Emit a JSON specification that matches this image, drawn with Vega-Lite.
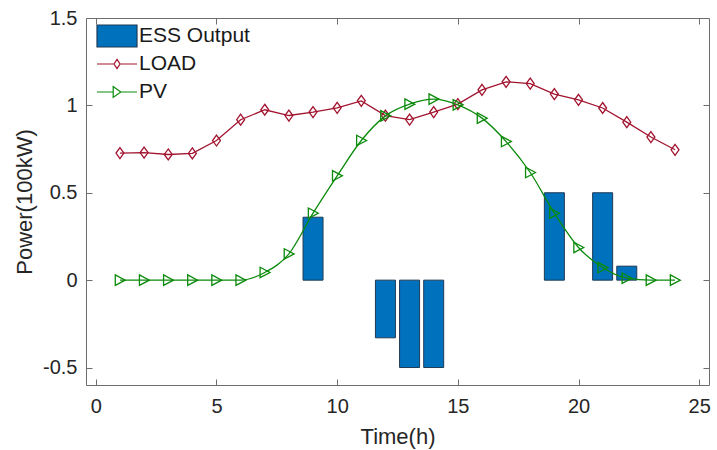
{
  "$schema": "https://vega.github.io/schema/vega-lite/v6.json",
  "width": 623,
  "height": 367,
  "autosize": "none",
  "padding": {"left": 86, "top": 18, "right": 8, "bottom": 65},
  "config": {
    "font": "Liberation Sans",
    "view": {"stroke": "#6e6e6e", "strokeWidth": 1},
    "axis": {
      "grid": false,
      "domain": false,
      "tickColor": "#6e6e6e",
      "tickSize": -6,
      "tickWidth": 1,
      "labelColor": "#262626",
      "titleColor": "#262626",
      "labelFontSize": 20,
      "titleFontSize": 22,
      "titleFontWeight": "normal",
      "labelFont": "Liberation Sans",
      "titleFont": "Liberation Sans"
    },
    "legend": {
      "title": null,
      "orient": "none",
      "clipHeight": 26,
      "labelFontSize": 21,
      "labelColor": "#1a1a1a",
      "labelFont": "Liberation Sans",
      "labelOffset": 1,
      "symbolSize": 1600,
      "symbolStrokeWidth": 1.2,
      "symbolOpacity": 1
    }
  },
  "datasets": {
    "hourly": [
      {"hour": 1, "load": 0.727, "pv": 0},
      {"hour": 2, "load": 0.730, "pv": 0},
      {"hour": 3, "load": 0.719, "pv": 0},
      {"hour": 4, "load": 0.725, "pv": 0},
      {"hour": 5, "load": 0.799, "pv": 0},
      {"hour": 6, "load": 0.918, "pv": 0},
      {"hour": 7, "load": 0.975, "pv": 0.044},
      {"hour": 8, "load": 0.942, "pv": 0.150},
      {"hour": 9, "load": 0.962, "pv": 0.383},
      {"hour": 10, "load": 0.986, "pv": 0.597},
      {"hour": 11, "load": 1.026, "pv": 0.799},
      {"hour": 12, "load": 0.942, "pv": 0.940},
      {"hour": 13, "load": 0.919, "pv": 1.007},
      {"hour": 14, "load": 0.962, "pv": 1.036},
      {"hour": 15, "load": 1.007, "pv": 1.003},
      {"hour": 16, "load": 1.089, "pv": 0.927},
      {"hour": 17, "load": 1.135, "pv": 0.793},
      {"hour": 18, "load": 1.125, "pv": 0.616},
      {"hour": 19, "load": 1.065, "pv": 0.383},
      {"hour": 20, "load": 1.032, "pv": 0.187},
      {"hour": 21, "load": 0.985, "pv": 0.072},
      {"hour": 22, "load": 0.904, "pv": 0.011},
      {"hour": 23, "load": 0.819, "pv": 0},
      {"hour": 24, "load": 0.746, "pv": 0}
    ],
    "ess": [
      {"hour": 9, "series": "ESS Output", "power": 0.36},
      {"hour": 12, "series": "ESS Output", "power": -0.33},
      {"hour": 13, "series": "ESS Output", "power": -0.5},
      {"hour": 14, "series": "ESS Output", "power": -0.5},
      {"hour": 19, "series": "ESS Output", "power": 0.5},
      {"hour": 21, "series": "ESS Output", "power": 0.5},
      {"hour": 22, "series": "ESS Output", "power": 0.08}
    ]
  },
  "resolve": {
    "axis": {"x": "independent", "y": "independent"},
    "scale": {"color": "independent"},
    "legend": {"color": "independent"}
  },
  "layer": [
    {
      "data": {"name": "ess"},
      "mark": {"type": "bar", "size": 20, "stroke": "#1f3a55", "strokeWidth": 1},
      "encoding": {
        "x": {
          "field": "hour", "type": "quantitative",
          "scale": {"domain": [-0.2, 25.2], "nice": false, "zero": false},
          "axis": {"values": [0, 5, 10, 15, 20, 25], "format": "d", "title": "Time(h)", "labelPadding": 17, "titlePadding": 10}
        },
        "y": {
          "field": "power", "type": "quantitative",
          "scale": {"domain": [-0.6, 1.5], "nice": false, "zero": false},
          "axis": {"values": [-0.5, 0, 0.5, 1, 1.5], "labelExpr": "datum.value + ''", "title": "Power(100kW)", "labelPadding": 15, "titlePadding": 6}
        },
        "color": {
          "field": "series", "type": "nominal",
          "scale": {"range": ["#0072BD"]},
          "legend": {
            "legendX": 10,
            "legendY": 5,
            "symbolType": "M-1,-0.55H1V0.55H-1Z",
            "symbolStrokeColor": "#1f3a55"
          }
        }
      }
    },
    {
      "mark": {"type": "rule", "color": "#555555", "strokeWidth": 1},
      "encoding": {
        "y": {"datum": 0, "type": "quantitative", "axis": null}
      }
    },
    {
      "data": {"name": "hourly"},
      "mark": {"type": "line", "strokeWidth": 1.3},
      "encoding": {
        "x": {"field": "hour", "type": "quantitative",
          "axis": {"orient": "top", "values": [0, 5, 10, 15, 20, 25], "labels": false, "title": null}},
        "y": {"field": "load", "type": "quantitative",
          "axis": {"orient": "right", "values": [-0.5, 0, 0.5, 1, 1.5], "labels": false, "title": null}},
        "color": {
          "datum": "LOAD", "type": "nominal",
          "scale": {"range": ["#A2142F"]},
          "legend": {
            "legendX": 10,
            "legendY": 33,
            "symbolType": "M-1,0H-0.15M0.15,0H1M0,-0.23L0.15,0L0,0.23L-0.15,0Z",
            "symbolFillColor": "transparent"
          }
        }
      }
    },
    {
      "data": {"name": "hourly"},
      "mark": {"type": "point", "filled": false, "strokeWidth": 1.3, "size": 121, "opacity": 1,
        "color": "#A2142F", "shape": "M0,-1L0.72,0L0,1L-0.72,0Z"},
      "encoding": {
        "x": {"field": "hour", "type": "quantitative", "axis": null},
        "y": {"field": "load", "type": "quantitative", "axis": null}
      }
    },
    {
      "data": {"name": "hourly"},
      "mark": {"type": "line", "strokeWidth": 1.3, "interpolate": "monotone"},
      "encoding": {
        "x": {"field": "hour", "type": "quantitative", "axis": null},
        "y": {"field": "pv", "type": "quantitative", "axis": null},
        "color": {
          "datum": "PV", "type": "nominal",
          "scale": {"range": ["#0b8a0b"]},
          "legend": {
            "legendX": 10,
            "legendY": 61,
            "symbolType": "M-1,0H-0.19M0.19,0H1M-0.19,-0.27L0.19,0L-0.19,0.27Z",
            "symbolFillColor": "transparent"
          }
        }
      }
    },
    {
      "data": {"name": "hourly"},
      "mark": {"type": "point", "filled": false, "strokeWidth": 1.3, "size": 121, "opacity": 1,
        "color": "#0b8a0b", "shape": "M-0.85,-0.95L0.95,0L-0.85,0.95Z"},
      "encoding": {
        "x": {"field": "hour", "type": "quantitative", "axis": null},
        "y": {"field": "pv", "type": "quantitative", "axis": null}
      }
    }
  ]
}
